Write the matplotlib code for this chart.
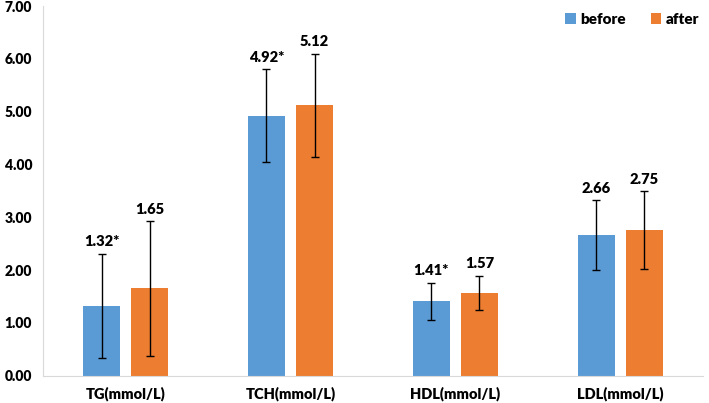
import numpy as np
import matplotlib.pyplot as plt

categories = ["TG(mmol/L)", "TCH(mmol/L)", "HDL(mmol/L)", "LDL(mmol/L)"]
before = [1.32, 4.92, 1.41, 2.66]
after = [1.65, 5.12, 1.57, 2.75]
before_sd = [0.99, 0.88, 0.35, 0.66]
after_sd = [1.27, 0.98, 0.32, 0.74]
before_labels = ["1.32*", "4.92*", "1.41*", "2.66"]
after_labels = ["1.65", "5.12", "1.57", "2.75"]

plt.rcParams["font.family"] = ["Lato", "DejaVu Sans"]
plt.rcParams["font.weight"] = "heavy"

fig = plt.figure(figsize=(7.09, 4.03), dpi=100)
ax = fig.add_axes([0.061, 0.068, 0.93, 0.917])

x = np.arange(len(categories))
w = 0.225
off = 0.146
err_style = dict(ecolor="black", elinewidth=1, capsize=3, capthick=1)

ax.bar(x - off, before, w, color="#5B9BD5", label="before",
       yerr=before_sd, error_kw=err_style)
ax.bar(x + off, after, w, color="#ED7D31", label="after",
       yerr=after_sd, error_kw=err_style)

for xi, v, sd, lab in zip(x - off, before, before_sd, before_labels):
    ax.annotate(lab, (xi, v + sd), xytext=(0, 4), textcoords="offset points",
                ha="center", va="bottom", fontsize=10.5, fontweight="heavy")
for xi, v, sd, lab in zip(x + off, after, after_sd, after_labels):
    ax.annotate(lab, (xi, v + sd), xytext=(0, 4), textcoords="offset points",
                ha="center", va="bottom", fontsize=10.5, fontweight="heavy")

ax.set_xlim(-0.5, 3.5)
ax.set_ylim(0, 7)
ticks = np.arange(0, 7.01, 1)
ax.set_yticks(ticks)
ax.set_yticklabels([f"{t:.2f}" for t in ticks], fontsize=10, fontweight="heavy")
ax.set_xticks(x)
ax.set_xticklabels(categories, fontsize=10.5, fontweight="heavy")
ax.tick_params(length=0, pad=8)

for s in ["top", "right"]:
    ax.spines[s].set_visible(False)
ax.spines["left"].set_color("#D9D9D9")
ax.spines["bottom"].set_color("#D9D9D9")

ax.legend(loc="upper right", bbox_to_anchor=(1.0, 0.99), ncol=2, frameon=False,
          handlelength=0.7, handleheight=0.7, columnspacing=1.6,
          handletextpad=0.3, borderaxespad=0.0, borderpad=0.2,
          prop={"weight": "heavy", "size": 11})

fig.savefig("out.png", dpi=100)
